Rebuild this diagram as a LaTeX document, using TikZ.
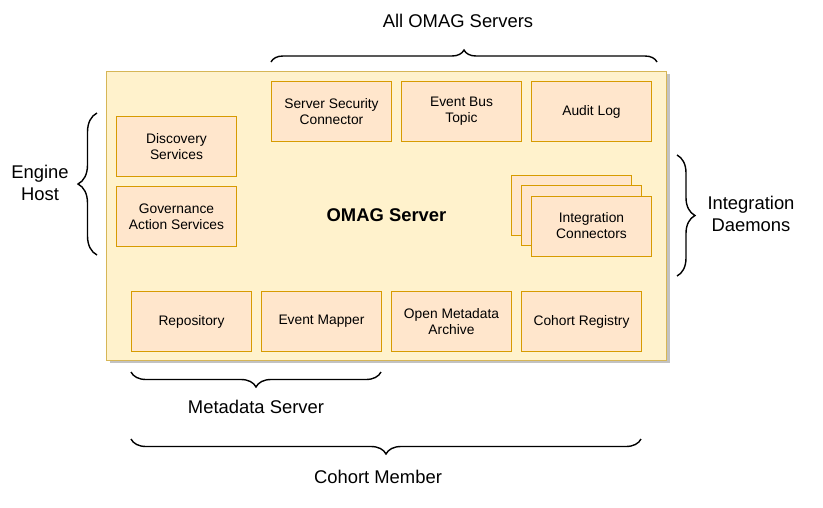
\documentclass[tikz,border=0pt]{standalone}
\usepackage{fontspec}
\setmainfont{Liberation Sans}
\usepackage{xcolor}
\usetikzlibrary{positioning,shadows,decorations.pathreplacing}
\definecolor{serverfill}{HTML}{FFF2CC}
\definecolor{serverline}{HTML}{D6B656}
\definecolor{partfill}{HTML}{FFE6CC}
\definecolor{partline}{HTML}{D79B00}

\begin{document}
\begin{tikzpicture}[x=1pt,y=-1pt,
	part/.style={draw=partline,fill=partfill,line width=1pt,minimum width=120pt,minimum height=60pt,
		inner sep=0pt,outer sep=0pt,align=center,font=\fontsize{13.8}{16}\selectfont},
	brc/.style={decorate,decoration={brace,amplitude=#1},line width=1.4pt},
	tag/.style={align=center,font=\fontsize{18.4}{21.5}\selectfont},
	node distance=10pt]
		\useasboundingbox (0,0) rectangle (823,507);
		\node[draw=serverline,fill=serverfill,line width=1pt,minimum width=560pt,minimum height=289pt,
			drop shadow={shadow xshift=3pt,shadow yshift=-3pt,fill=black!40,opacity=0.6},
			font=\bfseries\fontsize{18.4}{21}\selectfont] (server) at (386.5,215.5) {OMAG Server};
		\node[part] (sec) at (331.5,111.5) {Server Security\\Connector};
		\node[part,right=of sec] (bus) {Event Bus\\Topic};
		\node[part,right=of bus] (audit) {Audit Log};
		\node[part] (disc) at (176.5,146.5) {Discovery\\Services};
		\node[part,below=of disc] (gov) {Governance\\Action Services};
		\node[part] (ic1) at (571.5,205.5) {};
		\node[part] (ic2) at (581.5,215.5) {};
		\node[part] (ic3) at (591.5,226) {Integration\\Connectors};
		\node[part] (repo) at (191.5,321.5) {Repository};
		\node[part,right=of repo] (mapper) {Event Mapper};
		\node[part,right=of mapper] (archive) {Open Metadata\\Archive};
		\node[part,right=of archive] (registry) {Cohort Registry};
		\draw[brc=12pt] (271,62) -- (657,62);
		\draw[brc=19pt] (97,255) -- (97,113);
		\draw[brc=18pt] (677,155) -- (677,276);
		\draw[brc=15pt] (381,372) -- (131,372);
		\draw[brc=15pt] (641,439) -- (131,439);
		\node[tag] (allLbl) at (458,21) {All OMAG Servers};
		\node[tag] (hostLbl) at (40,183) {Engine\\Host};
		\node[tag] (daemonLbl) at (751,214) {Integration\\Daemons};
		\node[tag] (metaLbl) at (256,407) {Metadata Server};
		\node[tag] (memberLbl) at (378,477) {Cohort Member};
	\end{tikzpicture}
\end{document}
